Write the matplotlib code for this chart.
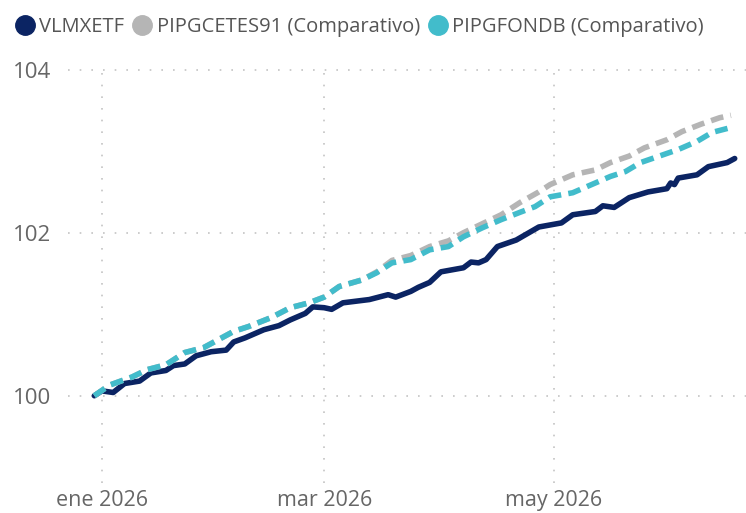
import numpy as np
import matplotlib
matplotlib.use('Agg')
import matplotlib.pyplot as plt
import matplotlib.dates as mdates
from matplotlib.lines import Line2D

# VLMXETF
etf_dates = np.array(['2025-12-30', '2026-01-01', '2026-01-04', '2026-01-07', '2026-01-11',
                      '2026-01-14', '2026-01-18', '2026-01-20', '2026-01-23', '2026-01-26',
                      '2026-01-30', '2026-02-03', '2026-02-05', '2026-02-08', '2026-02-13',
                      '2026-02-17', '2026-02-20', '2026-02-24', '2026-02-26', '2026-03-01',
                      '2026-03-03', '2026-03-06', '2026-03-13', '2026-03-18', '2026-03-20',
                      '2026-03-24', '2026-03-26', '2026-03-29', '2026-04-01', '2026-04-07',
                      '2026-04-09', '2026-04-11', '2026-04-13', '2026-04-16', '2026-04-21',
                      '2026-04-27', '2026-05-03', '2026-05-06', '2026-05-12', '2026-05-14',
                      '2026-05-17', '2026-05-21', '2026-05-26', '2026-05-31', '2026-06-01',
                      '2026-06-02', '2026-06-03', '2026-06-08', '2026-06-11', '2026-06-16',
                      '2026-06-18'], dtype='datetime64[D]')
etf_values = [100.00, 100.06, 100.04, 100.15, 100.18, 100.28, 100.31, 100.37, 100.39, 100.49,
              100.54, 100.56, 100.66, 100.71, 100.81, 100.86, 100.93, 101.01, 101.09, 101.08,
              101.06, 101.14, 101.18, 101.24, 101.21, 101.28, 101.33, 101.39, 101.52, 101.57,
              101.64, 101.63, 101.67, 101.83, 101.91, 102.07, 102.12, 102.22, 102.26, 102.33,
              102.31, 102.43, 102.50, 102.54, 102.61, 102.59, 102.67, 102.71, 102.81, 102.86,
              102.91]

# PIPGFONDB (Comparativo)
fondb_dates = np.array(['2025-12-30', '2026-01-03', '2026-01-09', '2026-01-13', '2026-01-18',
                        '2026-01-23', '2026-01-28', '2026-02-01', '2026-02-05', '2026-02-09',
                        '2026-02-15', '2026-02-20', '2026-02-25', '2026-03-01', '2026-03-05',
                        '2026-03-11', '2026-03-15', '2026-03-19', '2026-03-24', '2026-03-29',
                        '2026-04-03', '2026-04-07', '2026-04-12', '2026-04-17', '2026-04-22',
                        '2026-04-26', '2026-04-30', '2026-05-06', '2026-05-11', '2026-05-16',
                        '2026-05-20', '2026-05-24', '2026-05-29', '2026-06-03', '2026-06-08',
                        '2026-06-12', '2026-06-17'], dtype='datetime64[D]')
fondb_values = [100.00, 100.13, 100.23, 100.32, 100.38, 100.53, 100.59, 100.69, 100.79, 100.85,
                100.96, 101.08, 101.14, 101.21, 101.34, 101.42, 101.51, 101.63, 101.67, 101.79,
                101.83, 101.95, 102.06, 102.16, 102.25, 102.32, 102.44, 102.49, 102.59, 102.69,
                102.75, 102.86, 102.94, 103.02, 103.12, 103.23, 103.29]

# PIPGCETES91 (Comparativo)
cetes_dates = np.array(['2025-12-30', '2026-01-03', '2026-01-09', '2026-01-13', '2026-01-18',
                        '2026-01-23', '2026-01-28', '2026-02-01', '2026-02-05', '2026-02-09',
                        '2026-02-15', '2026-02-20', '2026-02-25', '2026-03-01', '2026-03-05',
                        '2026-03-11', '2026-03-15', '2026-03-19', '2026-03-24', '2026-03-29',
                        '2026-04-03', '2026-04-07', '2026-04-12', '2026-04-17', '2026-04-22',
                        '2026-04-27', '2026-04-30', '2026-05-06', '2026-05-12', '2026-05-16',
                        '2026-05-21', '2026-05-25', '2026-05-31', '2026-06-04', '2026-06-09',
                        '2026-06-14', '2026-06-17'], dtype='datetime64[D]')
cetes_values = [100.00, 100.13, 100.23, 100.32, 100.38, 100.53, 100.59, 100.69, 100.79, 100.85,
                100.96, 101.08, 101.14, 101.21, 101.34, 101.42, 101.52, 101.66, 101.72, 101.83,
                101.90, 102.00, 102.11, 102.22, 102.37, 102.50, 102.59, 102.71, 102.77, 102.86,
                102.94, 103.04, 103.14, 103.24, 103.33, 103.41, 103.44]

series_names = ['VLMXETF', 'PIPGCETES91 (Comparativo)', 'PIPGFONDB (Comparativo)']
colors = ['#0B2463', '#B5B5B5', '#42BCCB']
meses = ['ene', 'feb', 'mar', 'abr', 'may', 'jun', 'jul', 'ago', 'sep', 'oct', 'nov', 'dic']

plt.rcParams['font.family'] = ['Open Sans', 'DejaVu Sans']

fig = plt.figure(figsize=(7.46, 5.13), dpi=100)
ax = fig.add_axes([68 / 746, 30 / 513, 678 / 746, 415 / 513])

ax.plot(etf_dates, etf_values, color=colors[0], lw=4, solid_capstyle='round',
        solid_joinstyle='round', zorder=3)
ax.plot(cetes_dates, cetes_values, color=colors[1], lw=4, dashes=(2.3, 1.3), zorder=4)
ax.plot(fondb_dates, fondb_values, color=colors[2], lw=4, dashes=(2.3, 1.3), zorder=5)

ax.set_xlim(np.datetime64('2025-12-23'), np.datetime64('2026-06-21'))
ax.set_ylim(98.93, 104.02)
ax.set_yticks([100, 102, 104])

ax.xaxis.set_major_locator(mdates.MonthLocator(bymonth=[1, 3, 5]))
ax.xaxis.set_major_formatter(plt.FuncFormatter(
    lambda v, p: f"{meses[mdates.num2date(v).month - 1]} {mdates.num2date(v).year}"))

ax.grid(True, color='#C4C4C4', lw=1.2, linestyle=(0, (1, 6)))
for s in ax.spines.values():
    s.set_visible(False)
ax.tick_params(axis='y', length=0, pad=12, labelsize=16, labelcolor='#666666')
ax.tick_params(axis='x', length=0, pad=5, labelsize=15.5, labelcolor='#666666')

handles = [Line2D([], [], ls='none', marker='o', ms=14, color=c) for c in colors]
fig.legend(handles, series_names, loc='upper left', bbox_to_anchor=(0.004, 0.995), ncol=3,
           frameon=False, fontsize=14.5, labelcolor='#555555', handlelength=0.8,
           handletextpad=0.3, columnspacing=0.5, borderaxespad=0.3)

fig.savefig('out.png', dpi=100)
